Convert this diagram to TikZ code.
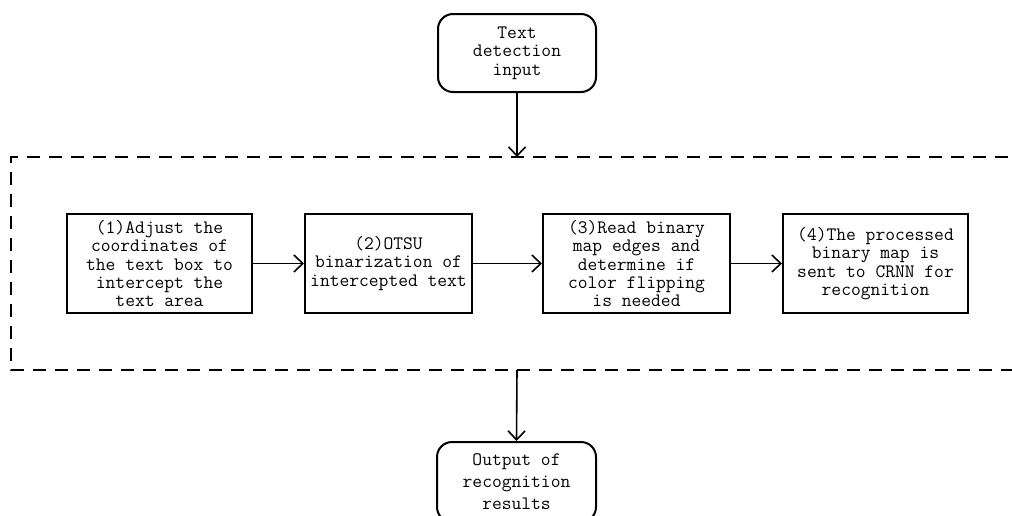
\documentclass[tikz,border=0pt]{standalone}
\usetikzlibrary{arrows.meta}
\begin{document}
\begin{tikzpicture}[x=1pt,y=-1pt,
  txt/.style={font=\ttfamily\fontsize{19}{18.3}\selectfont, align=center, inner sep=0pt},
  procbox/.style={txt, draw, line width=2pt},
  termbox/.style={txt, draw, line width=2pt, rounded corners=15pt},
  conn/.style={line width=1.6pt, -{Straight Barb[length=9pt,width=17pt,line width=1.6pt]}},
  groupline/.style={line width=2pt, dash pattern=on 13pt off 9pt}
]
\useasboundingbox (0,0) rectangle (1012,515);
\clip (0,0) rectangle (1012,515);

% terminals
\node[termbox, minimum width=158pt, minimum height=78pt] (start) at (517,53) {Text\\detection\\input};
\node[termbox, minimum width=159pt, minimum height=80pt,
      font=\ttfamily\fontsize{19}{22}\selectfont] (finish) at (516.5,482) {Output of\\recognition\\results};

% process boxes
\node[procbox, minimum width=185pt, minimum height=99pt] (b1) at (159.5,263.5)
  {(1)Adjust the\\coordinates of\\the text box to\\intercept the\\text area};
\node[procbox, minimum width=167pt, minimum height=99pt] (b2) at (388.5,263.5)
  {(2)OTSU\\binarization of\\intercepted text};
\node[procbox, minimum width=187pt, minimum height=99pt] (b3) at (636.5,263.5)
  {(3)Read binary\\map edges and\\determine if\\color flipping\\is needed};
\node[procbox, minimum width=185pt, minimum height=99pt] (b4) at (875.5,263.5)
  {(4)The processed\\binary map is\\sent to CRNN for\\recognition};

% dashed group (right side runs off the picture)
\coordinate (gtop) at (517,157);
\coordinate (gbot) at (517,370);
\draw[groupline] (1030,157) -- (11,157) -- (11,370) -- (1030,370);

% connectors
\draw[conn] (start.south) -- (gtop);
\draw[conn] (gbot) -- (finish.north);
\draw[conn] (b1.east) -- (b2.west);
\draw[conn] (b2.east) -- (b3.west);
\draw[conn] (b3.east) -- (b4.west);
\end{tikzpicture}
\end{document}
